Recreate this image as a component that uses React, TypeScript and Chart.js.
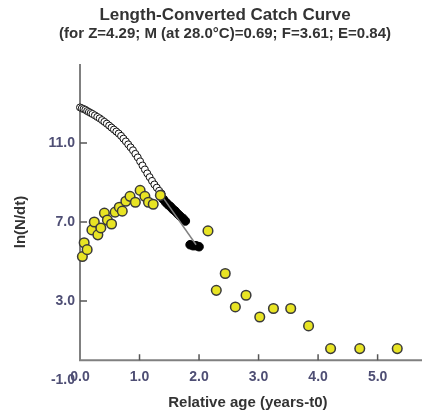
import React, { useEffect, useRef } from 'react';
import { Chart, registerables } from 'chart.js';

Chart.register(...registerables);

const chartTitle = 'Length-Converted Catch Curve';
const chartSubtitle = '(for Z=4.29; M (at 28.0°C)=0.69; F=3.61; E=0.84)';
const xAxisTitle = 'Relative age (years-t0)';
const yAxisTitle = 'ln(N/dt)';

const xTickValues = [0, 1, 2, 3, 4, 5];
const yTickValues = [-1, 3, 7, 11];

// open circles (expected / not used)
const openAges = [0.0, 0.03, 0.06, 0.09, 0.12, 0.15, 0.18, 0.21, 0.25, 0.29, 0.33, 0.37, 0.41, 0.45, 0.49, 0.53, 0.57, 0.61, 0.65, 0.69, 0.73, 0.77, 0.81, 0.85, 0.89, 0.93, 0.97, 1.01, 1.05, 1.09, 1.13, 1.17, 1.21, 1.25, 1.29, 1.33, 1.37];
const openLnN = [12.8, 12.76, 12.72, 12.68, 12.62, 12.57, 12.52, 12.47, 12.4, 12.32, 12.25, 12.16, 12.07, 11.98, 11.88, 11.78, 11.68, 11.58, 11.48, 11.36, 11.22, 11.08, 10.93, 10.78, 10.63, 10.45, 10.27, 10.07, 9.86, 9.66, 9.46, 9.27, 9.08, 8.9, 8.74, 8.58, 8.44];

// black points used in regression
const blackAges = [1.4, 1.44, 1.48, 1.52, 1.56, 1.6, 1.64, 1.68, 1.73, 1.77, 1.85, 1.9, 1.95, 2.0];
const blackLnN = [8.15, 8.0, 7.88, 7.78, 7.65, 7.55, 7.42, 7.3, 7.18, 7.05, 5.85, 5.8, 5.8, 5.75];

// regression line end points
const lineAges = [1.31, 1.95];
const lineLnN = [8.6, 5.85];

// yellow observed points
const yellowAges = [0.04, 0.07, 0.12, 0.2, 0.24, 0.3, 0.35, 0.41, 0.46, 0.53, 0.59, 0.66, 0.71, 0.77, 0.84, 0.93, 1.01, 1.09, 1.15, 1.23, 1.35, 2.15, 2.29, 2.44, 2.61, 2.79, 3.02, 3.25, 3.54, 3.84, 4.21, 4.7, 5.33];
const yellowLnN = [5.25, 5.95, 5.6, 6.6, 7.0, 6.35, 6.7, 7.45, 7.1, 6.9, 7.5, 7.75, 7.55, 8.05, 8.3, 8.0, 8.6, 8.3, 8.0, 7.9, 8.35, 6.55, 3.54, 4.39, 2.7, 3.29, 2.19, 2.62, 2.62, 1.74, 0.59, 0.59, 0.59];

const FONT = '"Liberation Sans", Arial, sans-serif';
const TICK_COLOR = '#4e4e74';
const TEXT_COLOR = '#333333';

const toPoints = (xs: number[], ys: number[]) => xs.map((x, i) => ({ x, y: ys[i] }));

const axesPlugin = {
  id: 'axesLines',
  beforeDatasetsDraw(chart: any) {
    const { ctx, chartArea, scales } = chart;
    const xs = scales.x;
    const ys = scales.y;
    const x0 = xs.getPixelForValue(0);
    const y0 = ys.getPixelForValue(0);
    ctx.save();
    ctx.strokeStyle = '#808080';
    ctx.lineWidth = 2;
    ctx.beginPath();
    ctx.moveTo(x0, chartArea.top);
    ctx.lineTo(x0, y0);
    ctx.lineTo(chart.width, y0);
    ctx.stroke();
    ctx.strokeStyle = '#555555';
    ctx.lineWidth = 1.5;
    ctx.beginPath();
    xTickValues.forEach((v) => {
      if (v <= 0) return;
      const px = xs.getPixelForValue(v);
      ctx.moveTo(px, y0);
      ctx.lineTo(px, y0 - 6);
    });
    yTickValues.forEach((v) => {
      if (v <= 0) return;
      const py = ys.getPixelForValue(v);
      ctx.moveTo(x0, py);
      ctx.lineTo(x0 + 7, py);
    });
    ctx.stroke();
    ctx.restore();
  },
};

export default function App() {
  const canvasRef = useRef<HTMLCanvasElement | null>(null);

  useEffect(() => {
    document.body.style.margin = '0';
    const canvas = canvasRef.current;
    if (!canvas) return;
    const chart = new Chart(canvas, {
      type: 'scatter',
      data: {
        datasets: [
          {
            label: 'observed',
            data: toPoints(yellowAges, yellowLnN),
            backgroundColor: '#e8e424',
            borderColor: '#3a3a3a',
            borderWidth: 1.5,
            pointRadius: 4.8,
            order: 1,
            clip: false,
          } as any,
          {
            label: 'regression',
            type: 'line',
            data: toPoints(lineAges, lineLnN),
            borderColor: '#808080',
            borderWidth: 1.5,
            pointRadius: 0,
            showLine: true,
            fill: false,
            order: 2,
          } as any,
          {
            label: 'used',
            data: toPoints(blackAges, blackLnN),
            backgroundColor: '#000000',
            borderColor: '#000000',
            borderWidth: 1,
            pointRadius: 4.3,
            order: 3,
            clip: false,
          } as any,
          {
            label: 'expected',
            data: toPoints(openAges, openLnN),
            backgroundColor: '#ffffff',
            borderColor: '#111111',
            borderWidth: 1,
            pointRadius: 3.5,
            order: 4,
            clip: false,
          } as any,
        ],
      },
      options: {
        animation: false,
        responsive: false,
        maintainAspectRatio: false,
        layout: { padding: { left: 28, right: 0, top: 0, bottom: 32 } },
        plugins: {
          legend: { display: false },
          tooltip: { enabled: false },
          title: {
            display: true,
            text: chartTitle,
            color: TEXT_COLOR,
            font: { family: FONT, size: 17, weight: 'bold', lineHeight: 1 },
            padding: { top: 7, bottom: 0 },
          },
          subtitle: {
            display: true,
            text: chartSubtitle,
            color: TEXT_COLOR,
            font: { family: FONT, size: 15, weight: 'bold', lineHeight: 1.2 },
            padding: { top: 1, bottom: 21 },
          },
        },
        scales: {
          x: {
            type: 'linear',
            position: { y: 0 } as any,
            min: 0,
            max: 5.64,
            grid: { display: false, drawTicks: false },
            border: { display: false },
            afterBuildTicks: (scale: any) => {
              scale.ticks = xTickValues.map((v) => ({ value: v }));
            },
            ticks: {
              color: TICK_COLOR,
              font: { family: FONT, size: 14, weight: 'bold' },
              padding: 8,
              maxRotation: 0,
              callback: (v: any) => Number(v).toFixed(1),
            },
            title: {
              display: true,
              text: xAxisTitle,
              color: TEXT_COLOR,
              font: { family: FONT, size: 15, weight: 'bold' },
              padding: { top: 1, bottom: 0 },
            },
          },
          y: {
            type: 'linear',
            min: -1,
            max: 15,
            grid: { display: false, drawTicks: false },
            border: { display: false },
            afterBuildTicks: (scale: any) => {
              scale.ticks = yTickValues.map((v) => ({ value: v }));
            },
            afterFit: (scale: any) => {
              scale.width = 52;
            },
            ticks: {
              color: TICK_COLOR,
              font: { family: FONT, size: 14, weight: 'bold' },
              padding: 5,
              callback: (v: any) => Number(v).toFixed(1),
            },
            title: {
              display: true,
              text: yAxisTitle,
              color: TEXT_COLOR,
              font: { family: FONT, size: 15, weight: 'bold' },
              padding: { top: -16, bottom: 0 },
            },
          },
        },
      } as any,
      plugins: [axesPlugin],
    });
    return () => chart.destroy();
  }, []);

  return (
    <div style={{ width: 422, height: 412 }}>
      <canvas ref={canvasRef} width={422} height={412} />
    </div>
  );
}
